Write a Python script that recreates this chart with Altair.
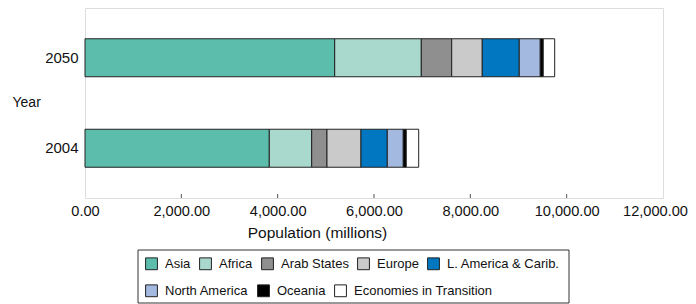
import altair as alt
import pandas as pd

years = ["2050", "2004"]
regions = ["Asia", "Africa", "Arab States", "Europe", "L. America & Carib.",
           "North America", "Oceania", "Economies in Transition"]
colors = ["#5cbdad", "#a9d8cc", "#8f8f8f", "#cacaca", "#0077c0",
          "#a3b9e0", "#000000", "#ffffff"]
pop_2050 = [5184, 1798, 631, 635, 768, 436, 62, 237]
pop_2004 = [3826, 880, 318, 706, 546, 332, 62, 258]
x_ticks = [0, 2000, 4000, 6000, 8000, 10000, 12000]

rows = []
for yr, vals in zip(years, [pop_2050, pop_2004]):
    for i, (r, v) in enumerate(zip(regions, vals)):
        rows.append({"Year": yr, "Region": r, "Population": v, "order": i})
df = pd.DataFrame(rows)
ticks_df = pd.DataFrame({"t": x_ticks[1:-1]})

FONT = "Liberation Sans"
N1 = 5  # entries in first legend row


def legend(x, y, n):
    return alt.Legend(title=None, orient="none", legendX=x, legendY=y,
                      direction="horizontal", columns=n,
                      symbolType="square", symbolSize=140,
                      symbolStrokeColor="#222", symbolStrokeWidth=1,
                      labelFontSize=13, labelColor="#111",
                      labelOffset=7, columnPadding=6, padding=0, labelLimit=300)


base = alt.Chart(df).transform_stack(
    stack="Population", groupby=["Year"], as_=["x0", "x1"],
    sort=[alt.SortField("order", order="ascending")],
)

x_enc = alt.X("x0:Q",
              scale=alt.Scale(domain=[0, 12000], nice=False),
              axis=alt.Axis(values=x_ticks, format=",.2f", title="Population (millions)",
                            grid=False, ticks=False, domain=False, labelPadding=5,
                            labelFlush=False, labelFontSize=14.6,
                            labelOffset=alt.ExprRef(expr="datum.value == 12000 ? -8 : 0"),
                            titleFontSize=15.5,
                            titleFontWeight="normal", titleX=232, titleY=39,
                            titleAlign="center", titleBaseline="alphabetic",
                            labelColor="#111", titleColor="#111"))
y_enc = alt.Y("Year:N", sort=years,
              scale=alt.Scale(paddingInner=0.58, paddingOuter=0.34),
              axis=alt.Axis(ticks=False, domain=False, labelPadding=7, labelFontSize=15,
                            titleAngle=0, titleAlign="left", titleBaseline="middle",
                            titleX=-73, titleY=94, titleFontSize=14,
                            titleFontWeight="normal", labelColor="#111", titleColor="#111"))

bars1 = base.transform_filter(alt.datum.order < N1).mark_bar(
    stroke="#222", strokeWidth=1).encode(
    x=x_enc, x2="x1:Q", y=y_enc,
    color=alt.Color("Region:N",
                    scale=alt.Scale(domain=regions[:N1], range=colors[:N1]),
                    legend=legend(60, 249, N1)),
)
bars2 = base.transform_filter(alt.datum.order >= N1).mark_bar(
    stroke="#222", strokeWidth=1).encode(
    x=alt.X("x0:Q"), x2="x1:Q", y=alt.Y("Year:N", sort=years),
    color=alt.Color("Region:N",
                    scale=alt.Scale(domain=regions[N1:], range=colors[N1:]),
                    legend=legend(60, 276, len(regions) - N1)),
)

tick_marks = alt.Chart(ticks_df).mark_rule(color="#555").encode(
    x=alt.X("t:Q"),
    y=alt.value(186), y2=alt.value(190),
)

legend_frame = alt.Chart(pd.DataFrame({"k": [0]})).mark_rect(
    fillOpacity=0, stroke="#333", strokeWidth=1).encode(
    x=alt.value(53), x2=alt.value(484), y=alt.value(242), y2=alt.value(295),
)

chart = alt.layer(bars1, bars2, tick_marks, legend_frame).resolve_scale(
    color="independent"
).properties(
    width=578, height=190,
    autosize=alt.AutoSizeParams(type="none"),
    padding={"left": 77, "top": 0, "right": 25, "bottom": 106},
).configure_view(stroke="#777", strokeWidth=1).configure(font=FONT)

chart.save("out.html", embed_options={"renderer": "svg", "actions": False})
